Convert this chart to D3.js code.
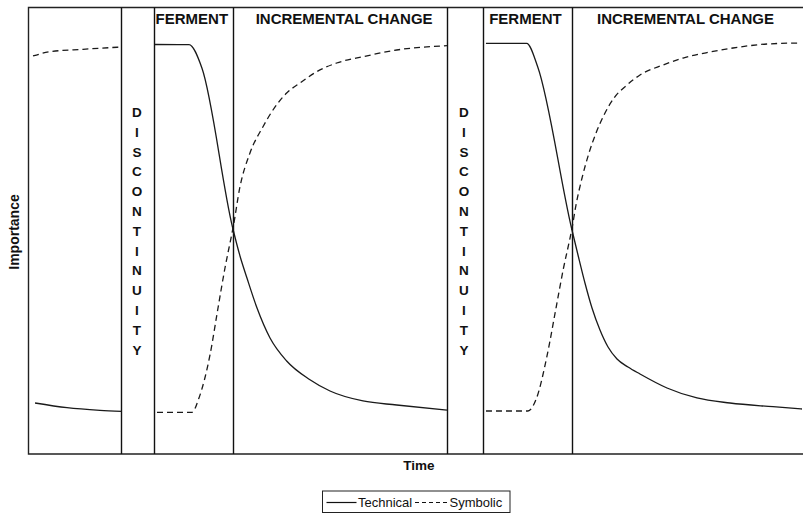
<!DOCTYPE html>
<html>
<head>
<meta charset="utf-8">
<script src="https://cdn.jsdelivr.net/npm/d3@7"></script>
<style>
  html, body { margin: 0; padding: 0; background: #fff; }
  #chart { width: 803px; height: 515px; }
  text { font-family: "Liberation Sans", Arial, sans-serif; fill: #111; }
</style>
</head>
<body>
<div id="chart"></div>
<script>
// phase boundaries along the time axis (0..100)
const phaseBounds = [11.95, 16.2, 26.4, 54.0, 58.65, 70.15];
const phaseLabels = ["FERMENT", "INCREMENTAL CHANGE", "FERMENT", "INCREMENTAL CHANGE"];
const discontinuityWord = "DISCONTINUITY";

// [time, importance], one array per era
const technicalEra0 = [[0.78, 11.41], [4.91, 10.36], [9.17, 9.78], [11.95, 9.55]];
const symbolicEra0 = [[0.52, 89.04], [2.71, 90.0], [6.98, 90.54], [11.95, 91.05]];

const technicalEra1 = [[16.28, 91.61], [20.67, 91.57], [22.35, 86.29], [26.29, 50.78], [27.26, 44.30],
    [28.16, 39.37], [29.46, 32.66], [31.14, 25.95], [33.29, 20.81], [36.30, 16.62], [38.89, 14.09],
    [43.15, 11.86], [47.51, 10.96], [54.0, 9.8]];
const symbolicEra1 = [[16.54, 9.33], [21.06, 9.33], [21.96, 12.53], [23.39, 22.21], [24.42, 32.66],
    [25.32, 41.61], [26.10, 48.32], [26.36, 50.56], [27.26, 59.80], [28.55, 67.34], [30.23, 73.22],
    [31.52, 76.96], [33.29, 80.76], [35.01, 83.0], [37.17, 85.53], [39.75, 87.47], [43.15, 88.88],
    [47.51, 90.38], [54.0, 91.35]];

const technicalEra2 = [[59.04, 91.88], [64.30, 91.88], [65.72, 86.64], [70.09, 50.56], [70.93, 44.52],
    [71.83, 38.26], [72.74, 32.66], [73.77, 27.74], [74.81, 23.94], [75.97, 21.25], [77.39, 19.46],
    [78.94, 17.90], [82.43, 14.77], [86.30, 12.53], [90.57, 11.41], [96.12, 10.58], [99.87, 10.07]];
const symbolicEra2 = [[59.04, 9.62], [64.47, 9.62], [65.58, 12.53], [66.96, 22.21], [68.09, 32.66],
    [69.06, 41.61], [69.90, 48.32], [70.16, 50.56], [70.67, 55.70], [71.45, 61.74], [72.35, 67.34],
    [73.26, 71.81], [74.29, 75.84], [75.58, 79.64], [77.26, 82.55], [78.94, 84.79], [81.91, 87.02],
    [84.50, 88.59], [87.98, 89.93], [90.96, 90.83], [95.35, 91.72], [99.61, 91.95]];

const technicalSeries = [technicalEra0, technicalEra1, technicalEra2];
const symbolicSeries = [symbolicEra0, symbolicEra1, symbolicEra2];

const width = 803, height = 515;
const plot = { left: 28.5, top: 7.5, right: 803, bottom: 454 };

const svg = d3.select("#chart").append("svg")
    .attr("width", width)
    .attr("height", height);

const x = d3.scaleLinear().domain([0, 100]).range([29, 803]);
const y = d3.scaleLinear().domain([0, 100]).range([454, 7]);

// plot frame (top, left, bottom)
svg.append("path")
    .attr("d", `M${plot.right},${plot.top}H${plot.left}V${plot.bottom}H${plot.right}`)
    .attr("fill", "none")
    .attr("stroke", "#222")
    .attr("stroke-width", 1.4);

// phase boundaries
svg.selectAll("line.bound")
    .data(phaseBounds)
    .enter().append("line")
    .attr("class", "bound")
    .attr("x1", d => Math.round(x(d)) + 0.5)
    .attr("x2", d => Math.round(x(d)) + 0.5)
    .attr("y1", plot.top)
    .attr("y2", plot.bottom)
    .attr("stroke", "#111")
    .attr("stroke-width", 1.4);

// phase titles
const titleSpans = [[phaseBounds[1], phaseBounds[2]], [phaseBounds[2], phaseBounds[3]],
    [phaseBounds[4], phaseBounds[5]], [phaseBounds[5], 100]];
svg.selectAll("text.phase")
    .data(phaseLabels)
    .enter().append("text")
    .attr("class", "phase")
    .attr("x", (d, i) => (x(titleSpans[i][0]) + x(titleSpans[i][1])) / 2 + (i === 1 ? 4 : -2))
    .attr("y", 24)
    .attr("text-anchor", "middle")
    .style("font-size", "15px")
    .style("font-weight", "bold")
    .text(d => d);

// vertical DISCONTINUITY words
[[phaseBounds[0], phaseBounds[1]], [phaseBounds[3], phaseBounds[4]]].forEach(span => {
    const cx = (x(span[0]) + x(span[1])) / 2;
    svg.append("g").selectAll("text")
        .data(discontinuityWord.split(""))
        .enter().append("text")
        .attr("x", cx - 1)
        .attr("y", (d, i) => 117 + i * 19.8)
        .attr("text-anchor", "middle")
        .style("font-size", "13.5px")
        .style("font-weight", "bold")
        .text(d => d);
});

const line = d3.line()
    .x(d => x(d[0]))
    .y(d => y(d[1]))
    .curve(d3.curveMonotoneX);

svg.selectAll("path.technical")
    .data(technicalSeries)
    .enter().append("path")
    .attr("class", "technical")
    .attr("d", line)
    .attr("fill", "none")
    .attr("stroke", "#1a1a1a")
    .attr("stroke-width", 1.3);

svg.selectAll("path.symbolic")
    .data(symbolicSeries)
    .enter().append("path")
    .attr("class", "symbolic")
    .attr("d", line)
    .attr("fill", "none")
    .attr("stroke", "#1a1a1a")
    .attr("stroke-width", 1.3)
    .attr("stroke-dasharray", "6,4");

// axis titles
svg.append("text")
    .attr("transform", "translate(19,232) rotate(-90)")
    .attr("text-anchor", "middle")
    .style("font-size", "14px")
    .style("font-weight", "bold")
    .text("Importance");

svg.append("text")
    .attr("x", 419)
    .attr("y", 470)
    .attr("text-anchor", "middle")
    .style("font-size", "13.5px")
    .style("font-weight", "bold")
    .text("Time");

// legend
const legend = svg.append("g").attr("transform", "translate(322.5,491)");
legend.append("rect")
    .attr("width", 187.5)
    .attr("height", 21.5)
    .attr("fill", "#fff")
    .attr("stroke", "#222")
    .attr("stroke-width", 1);
legend.append("line")
    .attr("x1", 4).attr("x2", 34)
    .attr("y1", 11.5).attr("y2", 11.5)
    .attr("stroke", "#111").attr("stroke-width", 1.2);
legend.append("text")
    .attr("x", 35.5).attr("y", 15.5)
    .style("font-size", "13px")
    .text("Technical");
legend.append("line")
    .attr("x1", 92.5).attr("x2", 124.5)
    .attr("y1", 11.5).attr("y2", 11.5)
    .attr("stroke", "#111").attr("stroke-width", 1.2)
    .attr("stroke-dasharray", "4,3");
legend.append("text")
    .attr("x", 127).attr("y", 15.5)
    .style("font-size", "13px")
    .text("Symbolic");
</script>
</body>
</html>
